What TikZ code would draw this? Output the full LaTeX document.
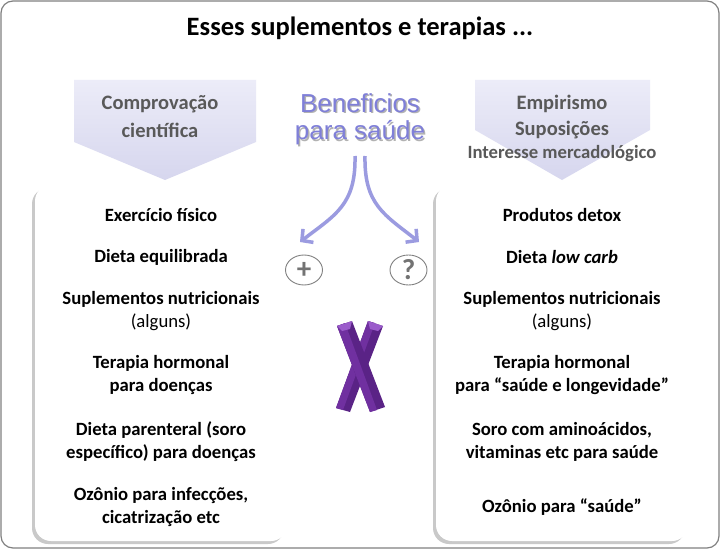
\documentclass[tikz,border=0pt]{standalone}
\usepackage{fontspec}
\setmainfont{Carlito}
\newfontfamily\arialf{Liberation Sans}
\usetikzlibrary{arrows.meta,shadows,shapes.geometric}
\definecolor{frameg}{HTML}{808080}
\definecolor{chevtop}{HTML}{ECECF8}
\definecolor{chevbot}{HTML}{D6D6EE}
\definecolor{chevtxt}{HTML}{595959}
\definecolor{benef}{HTML}{7F7FD8}
\definecolor{arrowc}{HTML}{9B9BE0}
\definecolor{xpurple}{HTML}{7030A0}
\definecolor{xdark}{HTML}{5A2386}
\definecolor{xlight}{HTML}{9B5CCB}
\tikzset{
  panel/.style={fill=white, rounded corners=16pt,
    drop shadow={shadow xshift=-3pt, shadow yshift=-3pt, opacity=.35, fill=black!60}},
  chev/.style={top color=chevtop, bottom color=chevbot, draw=none},
  chevtext/.style={font=\bfseries\fontsize{20.5}{25}\selectfont, text=chevtxt, align=center},
  chevsmall/.style={font=\bfseries\fontsize{18.7}{23}\selectfont, text=chevtxt, align=center},
  item/.style={font=\bfseries\fontsize{18.7}{23}\selectfont, align=center, inner sep=0pt},
  benefit/.style={font=\arialf\fontsize{26}{30}\selectfont, text=benef, align=center, inner sep=0pt},
  benshadow/.style={font=\arialf\fontsize{26}{30}\selectfont, text=black!30, align=center, inner sep=0pt},
  flow/.style={draw=arrowc, line width=3.5pt, -{Straight Barb[length=8pt,width=17pt]}},
  signmark/.style={ellipse, draw=frameg, line width=0.9pt, fill=white, minimum width=37pt, minimum height=30pt,
    inner sep=0pt, text=black!55, font=\bfseries\fontsize{29}{29}\selectfont},
}
\begin{document}
\begin{tikzpicture}[x=1pt,y=-1pt]
\useasboundingbox (0,0) rectangle (721,551);
% outer frame
\draw[frameg, line width=1.2pt, rounded corners=12pt, fill=white] (1,1) rectangle (719,548);
% title
\node[font=\bfseries\fontsize{26.5}{30}\selectfont] (title) at (360,28) {Esses suplementos e terapias ...};
% chevrons
\path[chev] (74,80) -- (256,80) -- (256,142) -- (165,180) -- (74,142) -- cycle;
\path[chev] (475,80) -- (650,80) -- (650,130) -- (562,180) -- (475,130) -- cycle;
\node[chevtext] (c1) at (160,104) {Comprovação};
\node[chevtext] (c2) at (160,130) {científica};
\node[chevtext] (e1) at (562,104) {Empirismo};
\node[chevtext] (e2) at (562,130) {Suposições};
\node[chevsmall] (e3) at (562,154) {Interesse mercadológico};
% panels
\path[panel] (35,185) rectangle (287,541);
\path[panel] (436,185) rectangle (688,541);
% left items
\node[item] (l1) at (161,215) {Exercício físico};
\node[item] (l2) at (161,257) {Dieta equilibrada};
\node[item] (l3) at (161,311.5) {Suplementos nutricionais\\\mdseries(alguns)};
\node[item] (l4) at (161,375.5) {Terapia hormonal\\para doenças};
\node[item] (l5) at (161,441.5) {Dieta parenteral (soro\\específico) para doenças};
\node[item] (l6) at (161,507.5) {Ozônio para infecções,\\cicatrização etc};
% right items
\node[item] (r1) at (562,215) {Produtos detox};
\node[item] (r2) at (562,257) {Dieta \textit{low carb}};
\node[item] (r3) at (562,311.5) {Suplementos nutricionais\\\mdseries(alguns)};
\node[item] (r4) at (562,375.5) {Terapia hormonal\\para “saúde e longevidade”};
\node[item] (r5) at (562,441.5) {Soro com aminoácidos,\\vitaminas etc para saúde};
\node[item] (r6) at (562,507) {Ozônio para “saúde”};
% benefits
\node[benshadow] at (361.5,104.5) {Beneficios};
\node[benshadow] at (361.5,134.5) {para saúde};
\node[benefit] (b1) at (360,103) {Beneficios};
\node[benefit] (b2) at (360,133) {para saúde};
% arrows
\coordinate (s1) at (355,156);
\coordinate (s2) at (365,156);
\coordinate (t1) at (300,242);
\coordinate (t2) at (419,242);
\draw[flow] (s1) .. controls (356,205) and (335,215) .. (t1);
\draw[flow] (s2) .. controls (364,205) and (385,215) .. (t2);
% marks
\node[signmark] (plus) at (304,270) {+};
\node[signmark] (quest) at (408.5,270) {?};
% X shape
\fill[xdark] (368,321) -- (383,326) -- (350,412) -- (336,408) -- cycle;
\fill[xpurple] (368,321) -- (375,323) -- (343,410) -- (336,408) -- cycle;
\fill[xdark] (337,326) -- (352,321) -- (385,407) -- (370,412) -- cycle;
\fill[xpurple] (337,326) -- (345,323) -- (377,410) -- (370,412) -- cycle;
\fill[xlight] (337,326) -- (352,321) -- (350,329) -- (342,331) -- cycle;
\fill[xlight] (368,321) -- (383,326) -- (378,331) -- (370,329) -- cycle;
\end{tikzpicture}
\end{document}
